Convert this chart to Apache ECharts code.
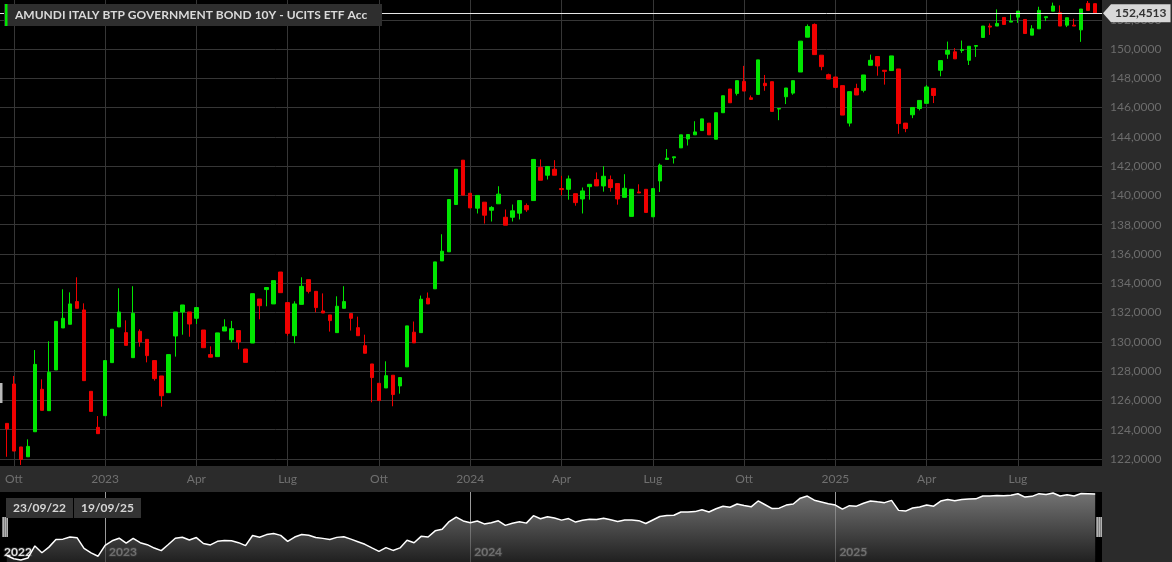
<!DOCTYPE html>
<html>
<head>
<meta charset="utf-8">
<title>AMUNDI ITALY BTP GOVERNMENT BOND 10Y - UCITS ETF Acc</title>
<script src="https://cdn.jsdelivr.net/npm/echarts@6/dist/echarts.min.js"></script>
<style>
  html, body { margin: 0; padding: 0; background: #2b2b2b; }
  #chart { width: 1172px; height: 562px; }
</style>
</head>
<body>
<div id="chart"></div>
<script>
// candele settimanali (indice di settimana), dal 23/09/22 al 19/09/25
const title = 'AMUNDI ITALY BTP GOVERNMENT BOND 10Y - UCITS ETF Acc'
const weekOpen = [
  124.43, 127.12, 122.82, 122.15, 123.86, 126.76, 125.30, 128.08, 130.95, 131.20,
  132.75, 132.18, 126.62, 124.16, 124.96, 128.58, 131.02, 130.63, 128.92, 130.72,
  130.17, 128.72, 127.67, 126.53, 130.40, 132.04, 132.04, 131.61, 130.81, 129.13,
  128.99, 130.74, 130.15, 130.77, 129.51, 129.92, 132.93, 133.57, 132.59, 134.77,
  132.68, 130.42, 132.56, 134.25, 133.45, 132.11, 131.84, 130.63, 132.29, 131.93,
  130.97, 129.74, 128.49, 127.17, 126.85, 127.72, 126.99, 128.29, 130.66, 130.63,
  132.98, 133.62, 135.53, 136.15, 139.38, 142.41, 140.15, 139.13, 139.54, 138.99,
  139.43, 138.51, 138.51, 138.79, 139.31, 139.65, 141.91, 141.38, 141.79, 140.47,
  140.42, 140.12, 139.76, 140.60, 141.08, 140.65, 141.08, 140.81, 139.87, 138.57,
  140.24, 140.42, 138.54, 140.99, 142.46, 142.57, 143.25, 143.86, 144.14, 144.43,
  144.94, 143.84, 145.65, 147.27, 146.97, 147.79, 146.67, 146.90, 147.66, 147.77,
  145.90, 146.74, 146.99, 148.43, 150.81, 151.68, 149.58, 148.25, 148.09, 147.50,
  144.94, 147.31, 147.18, 148.89, 149.49, 148.55, 148.53, 148.64, 144.94, 145.51,
  145.94, 146.29, 147.31, 148.55, 149.65, 149.81, 149.90, 149.23, 150.19, 150.79,
  151.57, 151.57, 152.16, 151.84, 152.18, 152.02, 150.95, 151.38, 152.14, 152.59,
  152.48, 151.63, 151.63, 151.31, 153.12, 153.10
]
const weekClose = [
  124.05, 122.54, 121.97, 122.86, 128.46, 125.32, 127.92, 131.40, 131.61, 132.59,
  132.29, 127.35, 125.25, 123.73, 128.72, 130.86, 132.04, 129.76, 131.95, 129.99,
  129.06, 127.49, 126.32, 129.13, 132.04, 132.52, 131.22, 132.34, 129.60, 128.95,
  130.61, 131.02, 130.90, 129.99, 128.60, 133.29, 132.47, 133.71, 134.18, 133.36,
  130.58, 132.59, 133.79, 133.45, 132.34, 131.97, 131.45, 132.43, 132.75, 131.61,
  130.42, 129.22, 127.56, 125.99, 127.69, 126.40, 127.56, 131.09, 129.93, 132.91,
  132.59, 135.46, 136.19, 139.72, 141.79, 140.02, 139.15, 140.00, 138.65, 139.18,
  140.09, 137.97, 138.95, 139.65, 139.02, 142.46, 141.04, 141.98, 141.38, 140.40,
  141.13, 139.51, 140.31, 140.76, 140.65, 141.31, 140.54, 139.76, 140.49, 140.42,
  140.17, 138.84, 140.47, 142.07, 142.55, 142.64, 144.14, 144.16, 144.34, 145.23,
  144.14, 145.65, 146.81, 146.33, 147.84, 147.13, 146.56, 149.26, 147.50, 145.74,
  145.94, 147.34, 147.84, 150.54, 151.54, 149.62, 148.80, 147.95, 147.38, 145.49,
  147.09, 146.86, 148.23, 149.23, 148.85, 148.48, 149.53, 144.91, 144.57, 146.01,
  146.49, 147.41, 146.83, 149.21, 149.90, 149.33, 149.97, 150.19, 150.24, 151.57,
  151.50, 151.75, 151.68, 151.91, 152.59, 151.06, 151.38, 152.64, 152.21, 152.94,
  151.57, 152.14, 151.57, 152.73, 152.64, 152.4513
]
const weekLow = [
  122.15, 122.54, 121.59, 122.15, 123.86, 125.32, 125.30, 128.08, 130.95, 131.20,
  132.29, 127.35, 125.25, 123.73, 124.96, 128.58, 131.02, 129.76, 128.92, 129.67,
  128.60, 127.35, 125.57, 126.53, 128.99, 130.49, 130.35, 131.22, 129.60, 128.95,
  128.99, 130.74, 129.97, 129.49, 128.60, 129.92, 131.54, 132.43, 132.59, 133.36,
  130.42, 129.90, 132.56, 133.31, 132.02, 131.97, 130.70, 130.63, 132.29, 130.77,
  130.42, 129.22, 125.87, 125.99, 126.85, 125.60, 126.46, 128.29, 129.93, 130.63,
  132.59, 133.62, 135.53, 136.15, 139.38, 140.02, 139.15, 138.77, 138.08, 138.22,
  139.43, 137.97, 138.22, 138.36, 138.88, 139.65, 141.04, 141.09, 141.38, 140.01,
  139.71, 139.30, 138.77, 139.71, 140.65, 140.26, 140.26, 139.37, 139.87, 138.57,
  140.17, 138.84, 138.54, 140.24, 142.46, 142.18, 143.25, 143.41, 144.14, 144.43,
  144.14, 143.84, 145.65, 146.33, 146.83, 147.13, 146.56, 146.90, 147.15, 145.74,
  145.14, 146.24, 146.88, 148.43, 150.81, 149.62, 148.55, 147.95, 147.38, 145.49,
  144.71, 146.86, 147.04, 148.89, 148.18, 147.57, 148.53, 144.21, 144.32, 145.28,
  145.81, 146.29, 146.31, 148.14, 149.33, 149.33, 149.74, 148.91, 149.46, 150.79,
  150.97, 151.57, 151.68, 151.84, 151.79, 151.06, 150.95, 151.38, 151.91, 152.59,
  151.57, 151.50, 151.57, 150.49, 152.64, 152.45
]
const weekHigh = [
  124.43, 127.67, 122.82, 123.34, 129.44, 127.44, 130.04, 131.40, 133.59, 133.38,
  134.41, 132.63, 126.62, 124.93, 128.72, 130.86, 133.66, 131.47, 133.80, 130.86,
  130.17, 128.72, 127.67, 129.13, 132.04, 132.52, 132.04, 132.34, 130.81, 129.69,
  130.61, 131.54, 131.43, 130.77, 129.51, 133.29, 132.93, 133.71, 134.18, 134.77,
  132.68, 132.77, 134.41, 134.25, 133.45, 133.31, 131.84, 133.11, 133.80, 131.93,
  131.72, 130.49, 128.49, 127.17, 128.67, 127.72, 127.56, 131.09, 131.39, 133.16,
  133.37, 135.46, 137.35, 139.72, 141.79, 142.41, 140.15, 140.00, 139.54, 139.27,
  140.63, 139.04, 139.38, 139.65, 139.45, 142.46, 142.46, 141.98, 142.41, 141.34,
  141.36, 140.12, 140.54, 140.76, 141.57, 142.00, 141.36, 140.81, 141.45, 140.42,
  140.76, 140.42, 140.47, 142.18, 143.17, 142.64, 144.14, 144.16, 145.07, 145.23,
  144.94, 145.65, 146.81, 147.27, 147.84, 148.85, 146.83, 149.26, 148.23, 147.77,
  145.94, 147.34, 147.84, 150.54, 151.68, 151.75, 149.58, 148.32, 148.09, 147.50,
  147.09, 147.63, 148.23, 149.62, 149.49, 148.55, 149.53, 148.64, 144.94, 146.01,
  146.49, 147.54, 147.31, 149.21, 150.51, 150.06, 150.58, 150.19, 150.24, 151.57,
  151.75, 152.71, 152.16, 152.37, 152.59, 152.02, 151.63, 152.89, 152.21, 153.17,
  152.98, 152.14, 152.07, 152.73, 153.28, 153.10
]
// settimana (indice) in cui cade l'inizio di ogni trimestre / anno
const quarterWeeks = [1, 14, 27, 40, 53, 66, 79, 92, 105, 118, 131, 144]
const quarterLabels = ['Ott', '2023', 'Apr', 'Lug', 'Ott', '2024', 'Apr', 'Lug', 'Ott', '2025', 'Apr', 'Lug']
const yearWeeks = [14, 66, 118]
const yearLabels = ['2022', '2023', '2024', '2025']
const priceTicks = [122, 124, 126, 128, 130, 132, 134, 136, 138, 140, 142, 144, 146, 148, 150, 152]
const rangeLabels = ['23/09/22', '19/09/25']
const lastPrice = weekClose[weekClose.length - 1]

const xMin = -0.968
const xMax = 155.97
const navLabelWeeks = [xMin].concat(yearWeeks)
const fmtPrice = v => v.toFixed(4).replace('.', ',')

const chart = echarts.init(document.getElementById('chart'))

const option = {
  animation: false,
  backgroundColor: '#2b2b2b',
  textStyle: { fontFamily: 'Lato' },
  grid: [
    { left: 0, top: 0, width: 1102, height: 466, show: true, backgroundColor: '#000', borderWidth: 0 },
    { left: 0, top: 492, width: 1102, height: 70, show: true, backgroundColor: '#000', borderWidth: 0 }
  ],
  xAxis: [
    {
      type: 'value',
      gridIndex: 0,
      min: xMin,
      max: xMax,
      axisLine: { show: false },
      axisTick: { show: false, customValues: quarterWeeks },
      splitLine: { show: true, lineStyle: { color: '#363636', width: 1 } },
      axisLabel: {
        customValues: quarterWeeks,
        color: '#707070',
        fontSize: 12,
        margin: 7,
        formatter: v => quarterLabels[quarterWeeks.indexOf(v)] || ''
      }
    },
    {
      type: 'value',
      gridIndex: 1,
      min: xMin,
      max: xMax,
      axisLine: { show: false },
      axisTick: { show: false, customValues: yearWeeks },
      splitLine: { show: true, lineStyle: { color: '#9a9a9a', width: 1 } },
      axisLabel: {
        customValues: navLabelWeeks,
        inside: true,
        margin: 4,
        align: 'left',
        padding: [0, 0, 0, 4],
        color: '#e2e2e2',
        fontWeight: 'bold',
        fontSize: 12,
        textBorderColor: '#222',
        textBorderWidth: 2,
        formatter: v => yearLabels[navLabelWeeks.indexOf(v)] || ''
      }
    }
  ],
  yAxis: [
    {
      type: 'value',
      gridIndex: 0,
      position: 'right',
      min: 121.52,
      max: 153.35,
      axisLine: { show: false },
      axisTick: { show: false, customValues: priceTicks },
      splitLine: { show: true, lineStyle: { color: '#363636', width: 1 } },
      axisLabel: {
        customValues: priceTicks,
        color: '#6c6c6c',
        fontSize: 12,
        margin: 8,
        formatter: fmtPrice
      }
    },
    {
      type: 'value',
      gridIndex: 1,
      show: false,
      min: 121.05,
      max: 153.4
    }
  ],
  series: [
    {
      name: 'candele',
      type: 'candlestick',
      xAxisIndex: 0,
      yAxisIndex: 0,
      barWidth: 4,
      data: weekOpen.map((o, i) => [i, o, weekClose[i], weekLow[i], weekHigh[i]]),
      itemStyle: {
        color: '#00e600',
        color0: '#f00000',
        borderColor: '#00e600',
        borderColor0: '#f00000',
        borderWidth: 1
      },
      markLine: {
        silent: true,
        symbol: ['none', 'none'],
        lineStyle: { color: '#e6e6e6', width: 1, type: 'solid' },
        label: {
          position: 'end',
          distance: 9,
          formatter: () => fmtPrice(lastPrice),
          backgroundColor: '#d8d8d8',
          color: '#333',
          fontWeight: 'bold',
          fontSize: 12,
          padding: [3, 4, 3, 4]
        },
        data: [{ yAxis: lastPrice }]
      }
    },
    {
      name: 'navigatore',
      type: 'line',
      xAxisIndex: 1,
      yAxisIndex: 1,
      symbol: 'none',
      data: weekClose.map((c, i) => [i, c]),
      lineStyle: { color: '#ffffff', width: 1.5 },
      areaStyle: {
        color: new echarts.graphic.LinearGradient(0, 0, 0, 1, [
          { offset: 0, color: '#a4a4a4' },
          { offset: 1, color: '#2e2e2e' }
        ])
      }
    }
  ]
}

chart.setOption(option)

// riquadri e decorazioni
const priceY = chart.convertToPixel({ yAxisIndex: 0 }, lastPrice)
const bars = (x0) => [0, 2, 4].map(dx => ({
  type: 'rect', shape: { x: x0 + dx, y: 517, width: 1.2, height: 20 }, style: { fill: '#fff' }
}))
chart.setOption({
  graphic: [
    { type: 'rect', z: 20, shape: { x: 4, y: 4, width: 378, height: 22 }, style: { fill: '#2e2e2e' } },
    { type: 'rect', z: 21, shape: { x: 5, y: 4, width: 2.5, height: 22 }, style: { fill: '#00e600' } },
    { type: 'text', z: 21, x: 15, y: 15, style: { text: title, fill: '#dadada', font: 'bold 12px Lato', verticalAlign: 'middle' } },
    { type: 'polygon', z: 21, shape: { points: [[1103, priceY], [1111, priceY - 9], [1111, priceY + 9]] }, style: { fill: '#d8d8d8' } },
    { type: 'rect', z: 20, shape: { x: 6, y: 498, width: 67, height: 20 }, style: { fill: '#333' } },
    { type: 'text', z: 21, x: 39.5, y: 508, style: { text: rangeLabels[0], fill: '#d6d6d6', font: 'bold 12px Lato', align: 'center', verticalAlign: 'middle' } },
    { type: 'rect', z: 20, shape: { x: 74, y: 498, width: 67, height: 20 }, style: { fill: '#333' } },
    { type: 'text', z: 21, x: 107.5, y: 508, style: { text: rangeLabels[1], fill: '#d6d6d6', font: 'bold 12px Lato', align: 'center', verticalAlign: 'middle' } },
    { type: 'group', z: 21, children: bars(2.5) },
    { type: 'group', z: 21, children: bars(1096.5) },
    { type: 'rect', z: 21, shape: { x: 0, y: 383, width: 2.5, height: 20 }, style: { fill: '#b8b8b8' } }
  ]
})
</script>
</body>
</html>
